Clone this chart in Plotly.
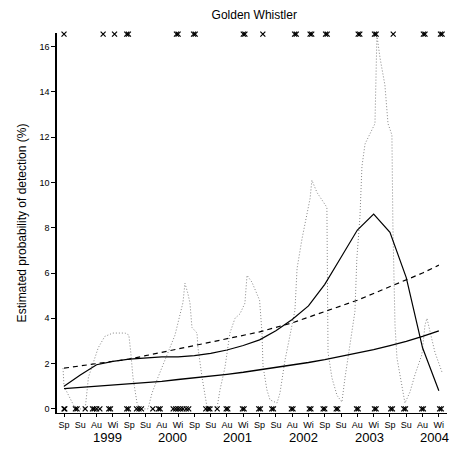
import plotly.graph_objects as go

seasons = ["Sp", "Su", "Au", "Wi"] * 6
season_idx = list(range(24))
years = ["1999", "2000", "2001", "2002", "2003", "2004"]
year_pos = [2.65, 6.65, 10.65, 14.7, 18.75, 22.75]

# fitted curve (peaked), dashed trend, lower trend
fit_peak = [1.0, 1.5, 1.95, 2.1, 2.2, 2.25, 2.3, 2.3, 2.35, 2.45, 2.6, 2.8,
            3.05, 3.45, 3.95, 4.55, 5.5, 6.7, 7.9, 8.6, 7.8, 5.8, 2.7, 0.8]
trend_dash = [1.8, 1.9, 2.0, 2.1, 2.2, 2.35, 2.5, 2.65, 2.8, 2.95, 3.1, 3.25,
              3.4, 3.6, 3.8, 4.05, 4.3, 4.55, 4.8, 5.1, 5.4, 5.7, 6.0, 6.35]
trend_low = [0.9, 0.95, 1.0, 1.05, 1.1, 1.15, 1.22, 1.3, 1.37, 1.45, 1.53, 1.62,
             1.72, 1.82, 1.93, 2.05, 2.18, 2.32, 2.47, 2.62, 2.8, 2.98, 3.2, 3.45]

# raw observed series (time in season units)
raw_t = [-0.06, 0.0, 0.7, 1.3, 1.5, 1.8, 2.1, 2.5, 3.0, 3.75, 3.98, 4.1, 4.23, 4.48,
         4.66, 5.15, 5.4, 5.77, 6.2, 6.5, 6.81, 7.3, 7.42, 7.6, 7.73, 7.85, 8.16,
         8.22, 8.47, 8.77, 9.39, 9.57, 9.88, 10.18, 10.49, 10.8, 11.1, 11.23, 11.53,
         12.0, 12.15, 12.21, 12.45, 12.64, 13.07, 13.25, 13.56, 13.87, 14.17, 14.3,
         14.6, 15.1, 15.21, 15.52, 16.13, 16.2, 16.44, 16.75, 17.05, 17.24, 17.42,
         17.85, 17.97, 18.16, 18.28, 18.47, 19.08, 19.2, 19.39, 19.69, 19.88, 20.12,
         20.18, 20.31, 20.43, 20.74, 20.92, 21.23, 21.53, 21.96, 22.15, 22.27, 22.45,
         22.76, 23.19]
raw_v = [1.8, 1.0, 0.0, 0.0, 1.4, 2.1, 2.7, 3.2, 3.35, 3.35, 3.26, 2.47, 1.4, 0.26,
         0.0, 0.0, 0.7, 1.4, 2.15, 2.7, 3.26, 4.7, 5.55, 5.1, 4.67, 3.6, 3.35,
         2.7, 1.4, 0.1, 0.05, 0.84, 1.85, 3.35, 4.0, 4.2, 4.67, 5.9, 5.6,
         4.8, 3.35, 1.9, 0.84, 0.4, 0.26, 0.7, 2.15, 3.26, 4.36, 6.2,
         7.5, 9.3, 10.1, 9.56, 8.9, 2.5, 1.37, 0.6, 0.3, 1.37, 2.25,
         4.3, 6.65, 8.5, 10.7, 11.7, 12.6, 16.5, 15.5, 14.3, 12.6, 12.1,
         8.1, 3.7, 2.25, 1.06, 0.26, 0.75, 1.5, 2.4, 3.7, 4.0, 3.4,
         2.5, 1.63]

# survey outcomes: detected (top) / not detected (bottom)
detected_t = [0.0, 2.4, 3.1, 3.85, 3.95, 6.9, 7.0, 7.95, 8.05, 11.0, 11.1, 12.2,
              14.15, 14.25, 15.1, 15.2, 16.05, 16.15, 18.05, 18.15, 19.05, 19.15,
              20.2, 22.05, 22.15, 23.1, 23.2]
missed_t = [0.0, 0.05, 0.7, 0.8, 1.3, 1.75, 1.85, 2.0, 2.2, 2.75, 2.85, 3.85, 3.95,
            4.45, 4.6, 4.75, 5.45, 5.8, 5.9, 6.7, 6.85, 7.0, 7.15, 7.3, 7.5, 7.65,
            8.7, 8.85, 8.95, 9.4, 9.95, 10.05, 10.95, 11.05, 11.95, 12.05, 12.75,
            12.85, 13.95, 14.05, 15.05, 15.15, 15.9, 16.0, 16.7, 16.8, 17.95, 18.05,
            19.05, 19.15, 20.05, 20.15, 20.85, 20.95, 21.95, 22.05, 23.05, 23.15]
DET_LEVEL = 16.55
MISS_LEVEL = 0.0

fig = go.Figure()
fig.add_trace(go.Scatter(x=raw_t, y=raw_v, mode="lines",
                         line=dict(color="#858585", width=1, dash="1px,2px")))
fig.add_trace(go.Scatter(x=season_idx, y=trend_dash, mode="lines",
                         line=dict(color="black", width=1.2, dash="5px,4px")))
fig.add_trace(go.Scatter(x=season_idx, y=trend_low, mode="lines",
                         line=dict(color="black", width=1.3)))
fig.add_trace(go.Scatter(x=season_idx, y=fit_peak, mode="lines",
                         line=dict(color="black", width=1.2)))
fig.add_trace(go.Scatter(x=detected_t, y=[DET_LEVEL] * len(detected_t), mode="markers",
                         marker=dict(symbol="x-thin", size=5, color="black",
                                     line=dict(width=1.2, color="black")),
                         cliponaxis=False))
fig.add_trace(go.Scatter(x=missed_t, y=[MISS_LEVEL] * len(missed_t), mode="markers",
                         marker=dict(symbol="x-thin", size=5, color="black",
                                     line=dict(width=1.2, color="black")),
                         cliponaxis=False))

for yl, yp in zip(years, year_pos):
    fig.add_annotation(x=yp, y=0, xref="x", yref="paper", yshift=-24,
                       text=yl, showarrow=False, yanchor="middle",
                       font=dict(size=13, color="black", family="Liberation Sans, Arial"))

fig.update_layout(
    width=450, height=457,
    margin=dict(l=57, r=3, t=33, b=44),
    paper_bgcolor="white", plot_bgcolor="white",
    showlegend=False,
    title=dict(text="Golden Whistler", x=0.565, xanchor="center", y=0.967, yanchor="middle",
               font=dict(size=12, color="black", family="Liberation Sans, Arial")),
    font=dict(family="Liberation Sans, Arial", color="black"),
)
fig.update_xaxes(range=[-0.43, 23.5], tickmode="array", tickvals=season_idx,
                 ticktext=seasons, ticks="outside", ticklen=3, tickcolor="black",
                 showline=True, linecolor="black", linewidth=1.2, showgrid=False,
                 zeroline=False, tickfont=dict(size=9), tickangle=0)
fig.update_yaxes(range=[-0.18, 16.6], tickmode="array", tickvals=list(range(0, 17, 2)),
                 ticks="outside", ticklen=4, tickcolor="black",
                 showline=True, linecolor="black", linewidth=1.5, showgrid=False,
                 zeroline=False, tickfont=dict(size=9),
                 title=dict(text="Estimated probability of detection (%)",
                            font=dict(size=12), standoff=10))

fig.write_html("out.html")
